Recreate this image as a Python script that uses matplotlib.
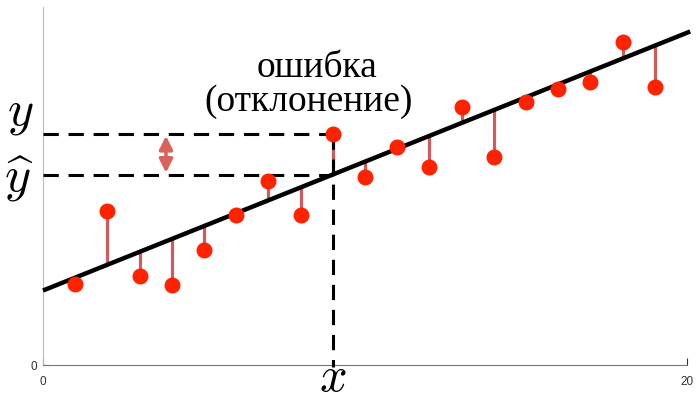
import numpy as np
import matplotlib
matplotlib.use('Agg')
import matplotlib.pyplot as plt
import matplotlib.transforms as mtransforms

plt.rcParams['mathtext.fontset'] = 'cm'

# observations
x_vals = [1, 2, 3, 4, 5, 6, 7, 8, 9, 10, 11, 12, 13, 14, 15, 16, 17, 18, 19]
y_vals = [2.26, 4.30, 2.49, 2.23, 3.21, 4.19, 5.14, 4.19, 6.45, 5.25,
          6.09, 5.53, 7.21, 5.81, 7.35, 7.71, 7.91, 9.02, 7.77]

# regression line y = intercept + slope * x
intercept = 2.08
slope = 0.36
line_x = [0, 20.1]

# the highlighted observation
pick = 8
arrow_x = 3.82

x_arr = np.array(x_vals)
y_arr = np.array(y_vals)
y_fit = intercept + slope * x_arr

fig = plt.figure(figsize=(6.99, 4.02), dpi=100)
ax = fig.add_axes([0.0615, 0.0896, 0.9213, 0.8905])

# residuals
ax.vlines(x_arr, y_fit, y_arr, color='#cd5c5c', lw=2.3, zorder=2)

lx = np.array(line_x)
ax.plot(lx, intercept + slope * lx, color='black', lw=3.2, zorder=3,
        solid_capstyle='butt', clip_on=False)

ax.plot(x_arr, y_arr, 'o', color='#ff2200', markersize=10.5, zorder=4)

# y and y-hat guides for the picked point
px = x_vals[pick]
py = y_vals[pick]
pfit = intercept + slope * px
dash = dict(color='black', lw=2.2, dashes=(5, 3.2), zorder=3, clip_on=False)
ax.plot([0, px], [py, py], **dash)
ax.plot([0, px], [pfit, pfit], **dash)
ax.plot([px, px], [py, -0.05], **dash)

ax.annotate('', xy=(arrow_x, pfit + 0.05), xytext=(arrow_x, py - 0.05),
            arrowprops=dict(arrowstyle='<|-|>', color='#d9625a', lw=2.5,
                            mutation_scale=20, shrinkA=0, shrinkB=0))

ax.text(8.51, 8.07, 'ошибка', family='Liberation Serif', fontsize=27,
        va='baseline', ha='center')
ax.text(8.25, 7.12, '(отклонение)', family='Liberation Serif', fontsize=27,
        va='baseline', ha='center')

ax.text(-0.72, 6.75, r'$y$', fontsize=36, ha='center', va='baseline',
        clip_on=False)
ax.text(-0.76, 4.87, r'$\widehat{y}$', fontsize=36, ha='center', va='baseline',
        clip_on=False)
# x label pinned to the bottom edge of the figure
trans = mtransforms.blended_transform_factory(ax.transData, fig.transFigure)
ax.text(px, 0.003, r'$x$', fontsize=35, ha='center', va='bottom',
        transform=trans, clip_on=False)

ax.set_xlim(0, 20)
ax.set_ylim(0, 10)
ax.set_xticks([0, 20])
ax.set_yticks([0])
ax.tick_params(direction='in', length=5, labelsize=8.5, colors='#333333')
ax.tick_params(axis='x', pad=7)
ax.tick_params(axis='y', pad=4)
for lab in ax.get_xticklabels() + ax.get_yticklabels():
    lab.set_family('Liberation Sans')
ax.spines['top'].set_visible(False)
ax.spines['right'].set_visible(False)
ax.spines['left'].set_color('#bbbbbb')
ax.spines['bottom'].set_color('#777777')

fig.savefig('out.png', dpi=100)
